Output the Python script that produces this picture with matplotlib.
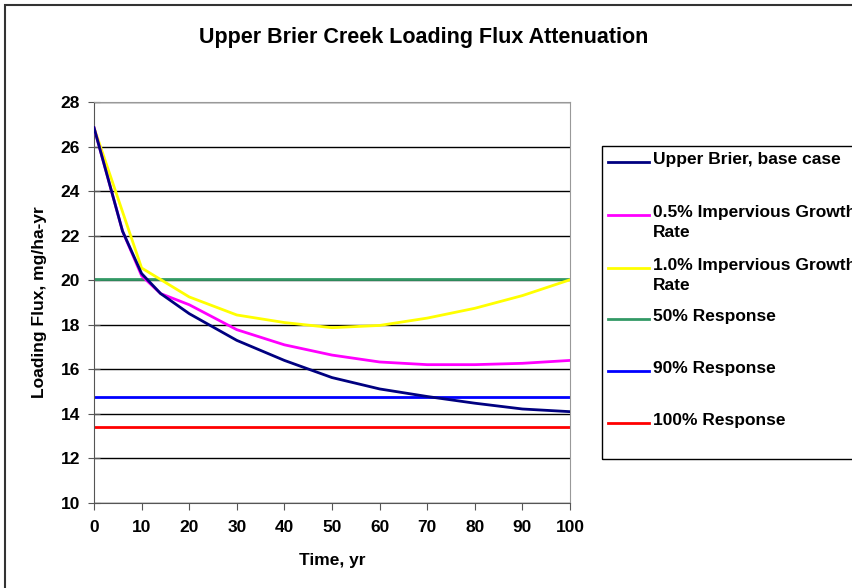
import matplotlib.pyplot as plt
from matplotlib.lines import Line2D
from matplotlib.patches import Rectangle

plt.rcParams['font.family'] = ['Liberation Sans', 'DejaVu Sans']
plt.rcParams['font.weight'] = 'bold'

# Data
years_base = [0, 6, 10, 14, 20, 30, 40, 50, 60, 70, 80, 90, 100]
base_case = [26.85, 22.2, 20.3, 19.4, 18.5, 17.3, 16.4, 15.63, 15.12, 14.78, 14.48, 14.22, 14.1]
growth_05 = [26.85, 22.2, 20.2, 19.4, 18.9, 17.78, 17.1, 16.64, 16.33, 16.21, 16.21, 16.27, 16.4]

years_10 = [0, 10, 20, 30, 40, 50, 60, 70, 80, 90, 100]
growth_10 = [26.85, 20.55, 19.25, 18.44, 18.1, 17.87, 17.97, 18.3, 18.74, 19.31, 20.02]

response_labels = ["50% Response", "90% Response", "100% Response"]
response_values = [20.06, 14.75, 13.41]
response_colors = ["#339966", "#0000FF", "#FF0000"]

W, H = 852, 588
fig = plt.figure(figsize=(W / 100, H / 100), dpi=100)
ax = fig.add_axes([94 / W, 1 - 503 / H, (570 - 94) / W, (503 - 102) / H])

ax.plot(years_base, base_case, color="#000080", lw=2.0, zorder=5)
ax.plot(years_base, growth_05, color="#FF00FF", lw=2.0, zorder=4)
ax.plot(years_10, growth_10, color="#FFFF00", lw=2.0, zorder=3)
for v, c in zip(response_values, response_colors):
    ax.axhline(v, color=c, lw=2.0, zorder=2)

ax.set_xlim(0, 100)
ax.set_ylim(10, 28)
ax.set_xticks(range(0, 101, 10))
ax.set_yticks(range(10, 29, 2))
ax.grid(axis="y", color="black", lw=1.0)
ax.set_axisbelow(True)
for s in ["top", "right"]:
    ax.spines[s].set_color("#999999")
for s in ["left", "bottom"]:
    ax.spines[s].set_color("#555555")
ax.tick_params(axis="x", direction="out", length=5, labelsize=12.5, pad=7, color="#555555")
ax.tick_params(axis="y", direction="inout", length=8, labelsize=12.5, pad=6, color="#555555")
for lbl in ax.get_xticklabels() + ax.get_yticklabels():
    lbl.set_fontweight("bold")

ax.set_xlabel("Time, yr", fontsize=12.5, fontweight="bold", labelpad=13)
ax.set_ylabel("Loading Flux, mg/ha-yr", fontsize=12.5, fontweight="bold", labelpad=10)
fig.text(424 / W, 1 - 38 / H, "Upper Brier Creek Loading Flux Attenuation",
         ha="center", va="center", fontsize=15.5, fontweight="bold")

# figure border
fig.patches.append(Rectangle((5 / W, -0.1), 1.2, 1 - 5 / H + 0.1, transform=fig.transFigure,
                             fill=False, edgecolor="#333333", lw=1.5))

# legend box, drawn by hand so it runs off the right edge like the original
fig.patches.append(Rectangle((602 / W, 1 - 459 / H), 0.5, (459 - 146) / H, transform=fig.transFigure,
                             fill=False, edgecolor="black", lw=1.0))
legend_labels = ["Upper Brier, base case", "0.5% Impervious Growth\nRate",
                 "1.0% Impervious Growth\nRate"] + response_labels
legend_colors = ["#000080", "#FF00FF", "#FFFF00"] + response_colors
legend_y = [159, 212, 265, 316, 368, 420]
for lab, c, y in zip(legend_labels, legend_colors, legend_y):
    yf = 1 - (y + 3) / H
    fig.add_artist(Line2D([608 / W, 649 / W], [yf, yf], color=c, lw=2.0, transform=fig.transFigure))
    fig.text(653 / W, 1 - (y - 7) / H, lab, ha="left", va="top",
             fontsize=12.5, fontweight="bold", linespacing=1.45)

fig.savefig("out.png", dpi=100)
